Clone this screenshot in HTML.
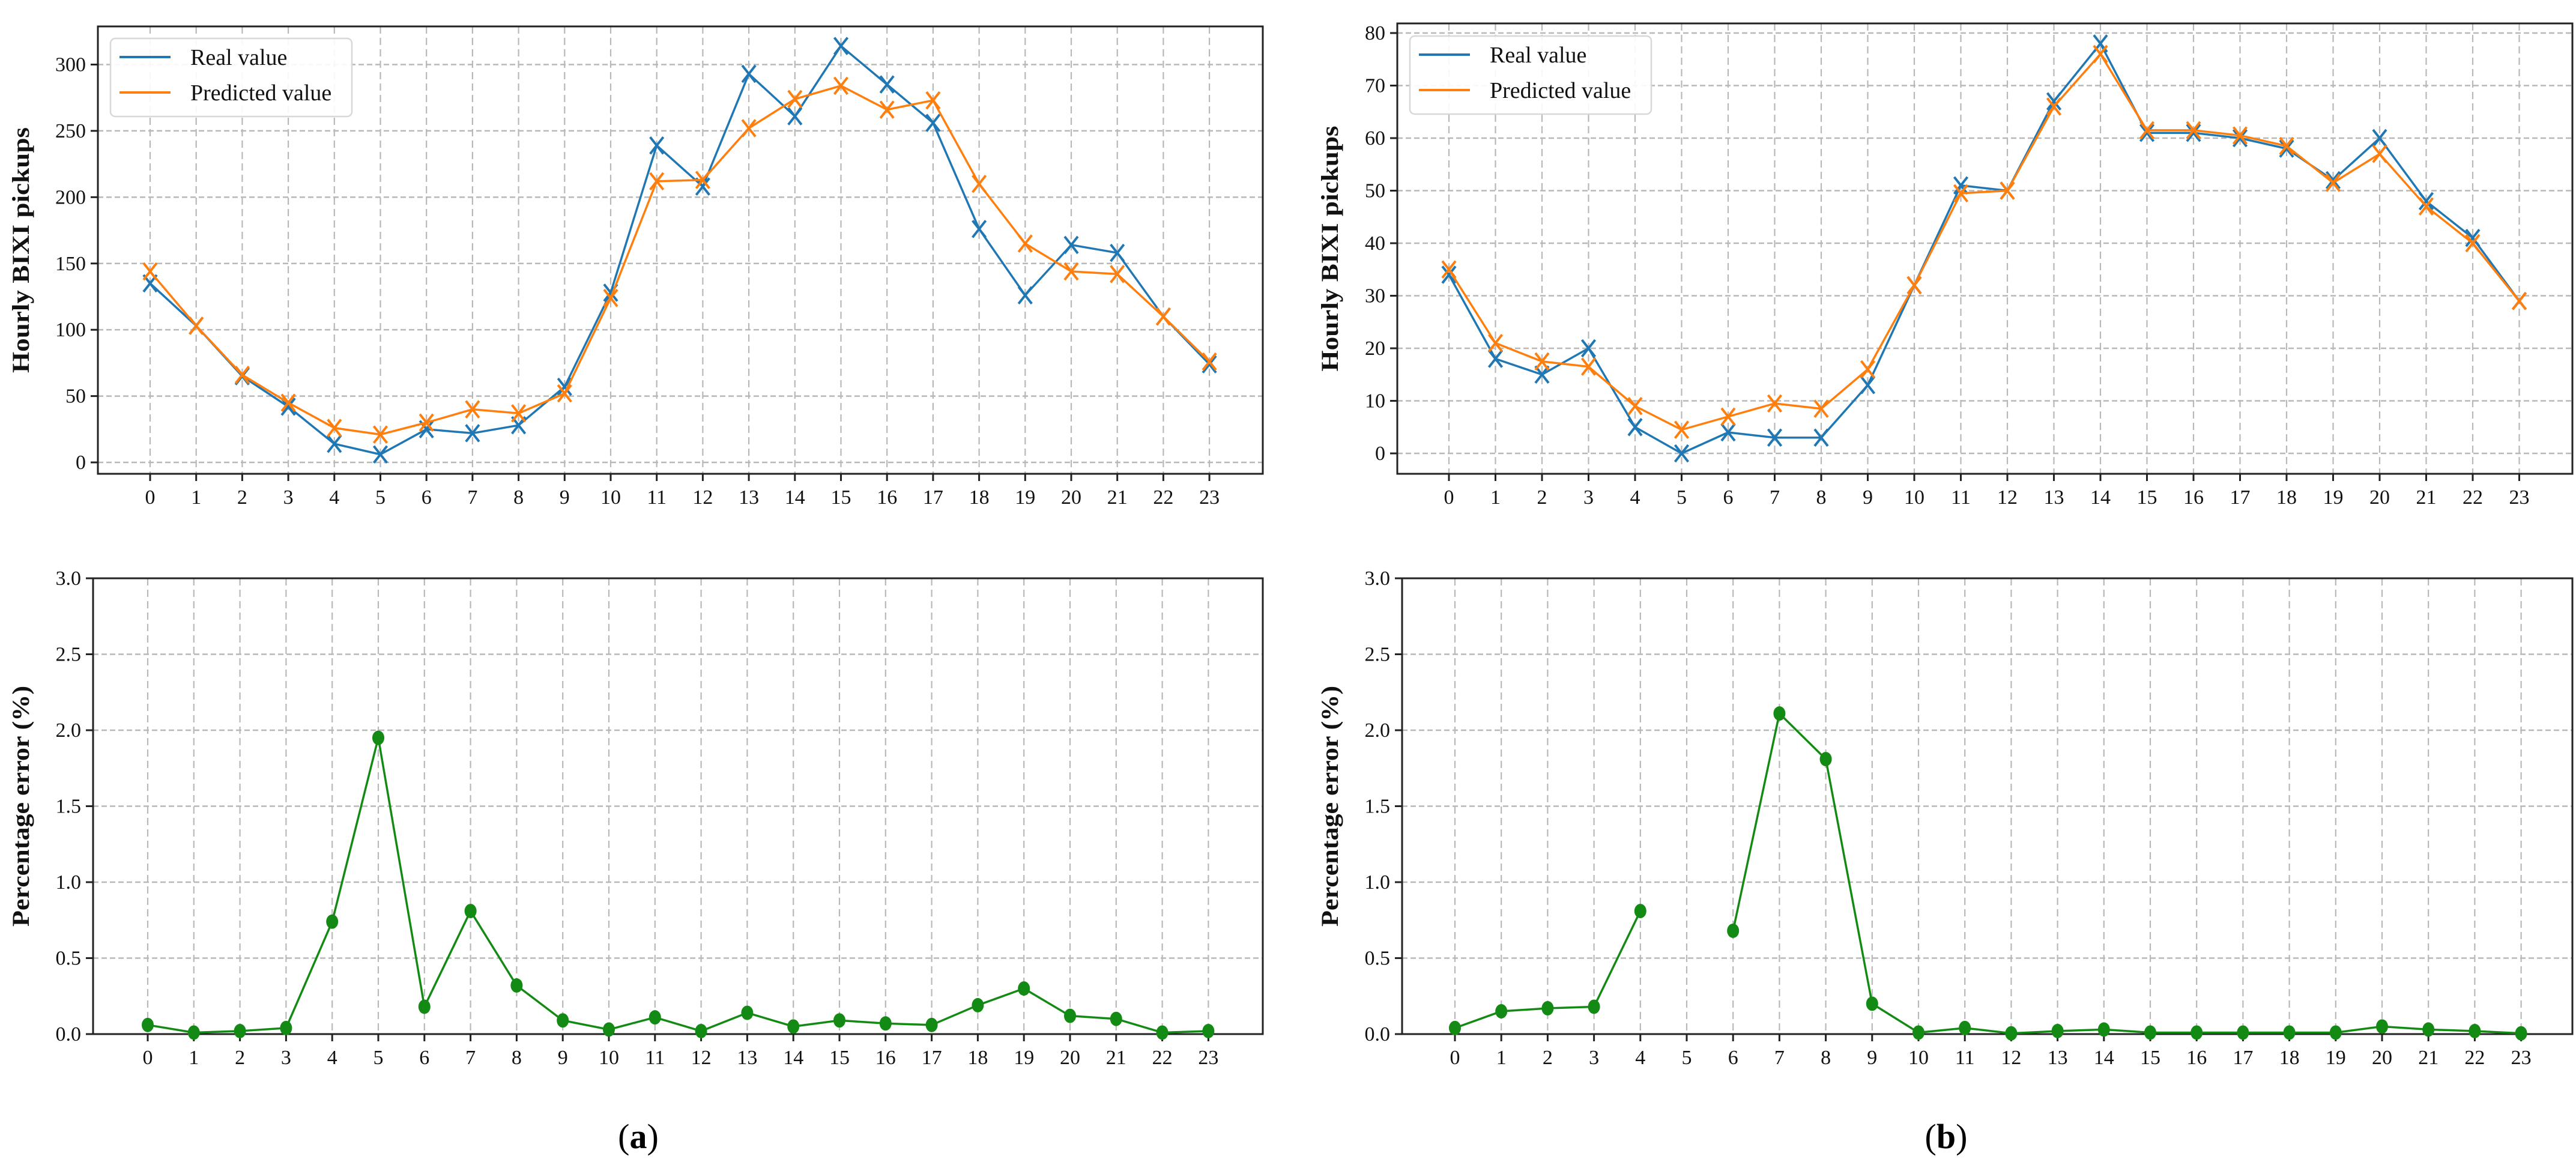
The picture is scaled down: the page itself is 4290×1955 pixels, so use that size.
<!DOCTYPE html>
<html><head><meta charset="utf-8"><style>
html,body{margin:0;padding:0;background:#fff;}
svg{display:block;font-family:"Liberation Serif",serif;}
</style></head><body>
<svg id="fig" width="4290" height="1955" viewBox="0 0 4290 1955" xmlns="http://www.w3.org/2000/svg">
<rect x="0" y="0" width="4290" height="1955" fill="#fff"/>
<text x="1063" y="1912" font-size="58" text-anchor="middle">(<tspan font-weight="bold">a</tspan>)</text>
<text x="3241" y="1912" font-size="58" text-anchor="middle">(<tspan font-weight="bold">b</tspan>)</text>
</svg>
<script>
const hours = [0,1,2,3,4,5,6,7,8,9,10,11,12,13,14,15,16,17,18,19,20,21,22,23];
const realA = [135,103,65,42,14,6,25,22,28,57,128,239,208,293,261,314,285,256,176,126,164,158,110,74];
const predA = [144,103,66,45,26,21,30,40,37,52,124,212,213,252,274,284,266,273,210,165,144,142,110,76];
const realB = [34,18,15,20,5,0,4,3,3,13,32,51,50,67,78,61,61,60,58,52,60,48,41,29];
const predB = [35,21,17.5,16.5,9,4.5,7,9.5,8.5,16,32,49.5,50,66,76,61.5,61.5,60.5,58.5,51.5,57,47,40,29];
const errA = [0.06,0.01,0.02,0.04,0.74,1.95,0.18,0.81,0.32,0.09,0.03,0.11,0.02,0.14,0.05,0.09,0.07,0.06,0.19,0.30,0.12,0.10,0.01,0.02];
const errB = [0.04,0.15,0.17,0.18,0.81,null,0.68,2.11,1.81,0.20,0.01,0.04,0.005,0.02,0.03,0.01,0.01,0.01,0.01,0.01,0.05,0.03,0.02,0.005];
const ticksA = [0,50,100,150,200,250,300];
const ticksB = [0,10,20,30,40,50,60,70,80];
const ticksErr = [0,0.5,1.0,1.5,2.0,2.5,3.0];

const NS = "http://www.w3.org/2000/svg";
const svg = document.getElementById('fig');
function mk(tag, attrs, parent){
  const e = document.createElementNS(NS, tag);
  for (const k in attrs) e.setAttribute(k, attrs[k]);
  (parent||svg).appendChild(e);
  return e;
}

function panel(p){
  const g = mk('g', {});
  
  
  const X = i => p.x0 + i*p.dx;
  const Y = v => p.y0 + (v - p.v0)*(p.y1 - p.y0)/(p.v1 - p.v0);
  hours.forEach(h => {
    const l = mk('line', {x1:X(h), x2:X(h), y1:p.top, y2:p.bottom, stroke:'#b8b8b8', 'stroke-width':2.2, 'stroke-dasharray':'12,7'}, g);
    
    
  });
  p.ticks.forEach(t => {
    const l = mk('line', {x1:p.left, x2:p.right, y1:Y(t), y2:Y(t), stroke:'#b8b8b8', 'stroke-width':2.5, 'stroke-dasharray':'9,5'}, g);
    
    
  });
  const fr = mk('rect', {x:p.left, y:p.top, width:p.right-p.left, height:p.bottom-p.top, fill:'none', stroke:'#222', 'stroke-width':3}, g);
  
  
  hours.forEach(h => {
    mk('line', {x1:X(h), x2:X(h), y1:p.bottom, y2:p.bottom+12, stroke:'#222', 'stroke-width':3}, g);
    const t = mk('text', {x:X(h), y:p.bottom+50, 'font-size':34, 'text-anchor':'middle', fill:'#111'}, g);
    t.textContent = h;
    
    
  });
  p.ticks.forEach(v => {
    mk('line', {x1:p.left-12, x2:p.left, y1:Y(v), y2:Y(v), stroke:'#222', 'stroke-width':3}, g);
    const t = mk('text', {x:p.left-20, y:Y(v)+11, 'font-size':34, 'text-anchor':'end', fill:'#111'}, g);
    t.textContent = p.fmt(v);
    
    
  });
  const yt = mk('text', {x:0, y:0, 'font-size':40, 'font-weight':'bold', 'text-anchor':'middle', fill:'#111', textLength:p.ylen, lengthAdjust:'spacingAndGlyphs',
    transform:'translate('+p.ylx+','+((p.top+p.bottom)/2)+') rotate(-90)'}, g);
  yt.textContent = p.ylabel;
  
  
  p.series.forEach(s => {
    const sg = mk('g', {}, g);
    
    
    let d = '', pen = false;
    s.data.forEach((v,i) => {
      if (v === null) { pen = false; return; }
      d += (pen ? 'L' : 'M') + X(i) + ' ' + Y(v) + ' ';
      pen = true;
    });
    const path = mk('path', {d:d, fill:'none', stroke:s.color, 'stroke-width':3.5, 'stroke-linejoin':'round'}, sg);
    
    
    s.data.forEach((v,i) => {
      if (v === null) return;
      const cx = X(i), cy = Y(v);
      if (s.marker === 'x') {
        const m = mk('path', {d:'M'+(cx-11)+' '+(cy-14)+'L'+(cx+11)+' '+(cy+14)+'M'+(cx+11)+' '+(cy-14)+'L'+(cx-11)+' '+(cy+14), stroke:s.color, 'stroke-width':4, fill:'none'}, sg);
        
        
      } else {
        const m = mk('ellipse', {cx:cx, cy:cy, rx:10, ry:12, fill:s.color}, sg);
        
        
      }
    });
  });
  if (p.legend) {
    const L = p.legend;
    const lg = mk('g', {}, g);
    
    
    mk('rect', {x:L.x, y:L.y, width:L.w, height:L.h, rx:8, fill:'#fff', 'fill-opacity':0.9, stroke:'#d8d8d8', 'stroke-width':2.5}, lg);
    p.series.forEach((s,k) => {
      const yy = L.y + 31 + k*59;
      const e = mk('g', {}, lg);
      
      
      mk('line', {x1:L.x+15, x2:L.x+100, y1:yy, y2:yy, stroke:s.color, 'stroke-width':4}, e);
      const t = mk('text', {x:L.x+133, y:yy+13, 'font-size':38, fill:'#111'}, e);
      t.textContent = s.label;
    });
  }
}

panel({name:'chart-a-pickups', left:163, right:2103, top:44, bottom:789, x0:250, dx:76.7,
  y0:770, y1:107.5, v0:0, v1:300, ticks:ticksA, fmt:v=>String(v),
  ylabel:'Hourly BIXI pickups', ylx:48, ylen:409,
  series:[{name:'real-value-a', label:'Real value', data:realA, color:'#1f77b4', marker:'x'},
          {name:'predicted-value-a', label:'Predicted value', data:predA, color:'#ff7f0e', marker:'x'}],
  legend:{x:184, y:64, w:402, h:130}});
panel({name:'chart-b-pickups', left:2327, right:4284, top:39, bottom:789, x0:2413, dx:77.5,
  y0:755, y1:55, v0:0, v1:80, ticks:ticksB, fmt:v=>String(v),
  ylabel:'Hourly BIXI pickups', ylx:2228, ylen:409,
  series:[{name:'real-value-b', label:'Real value', data:realB, color:'#1f77b4', marker:'x'},
          {name:'predicted-value-b', label:'Predicted value', data:predB, color:'#ff7f0e', marker:'x'}],
  legend:{x:2348, y:60, w:402, h:130}});
panel({name:'chart-a-error', left:155, right:2103, top:963, bottom:1722, x0:246, dx:76.8,
  y0:1722, y1:963, v0:0, v1:3, ticks:ticksErr, fmt:v=>v.toFixed(1),
  ylabel:'Percentage error (%)', ylx:48, ylen:401,
  series:[{name:'error-a', label:'Error', data:errA, color:'#138a13', marker:'o'}]});
panel({name:'chart-b-error', left:2335, right:4284, top:963, bottom:1722, x0:2423, dx:77.2,
  y0:1722, y1:963, v0:0, v1:3, ticks:ticksErr, fmt:v=>v.toFixed(1),
  ylabel:'Percentage error (%)', ylx:2228, ylen:401,
  series:[{name:'error-b', label:'Error', data:errB, color:'#138a13', marker:'o'}]});
</script>
</body></html>
